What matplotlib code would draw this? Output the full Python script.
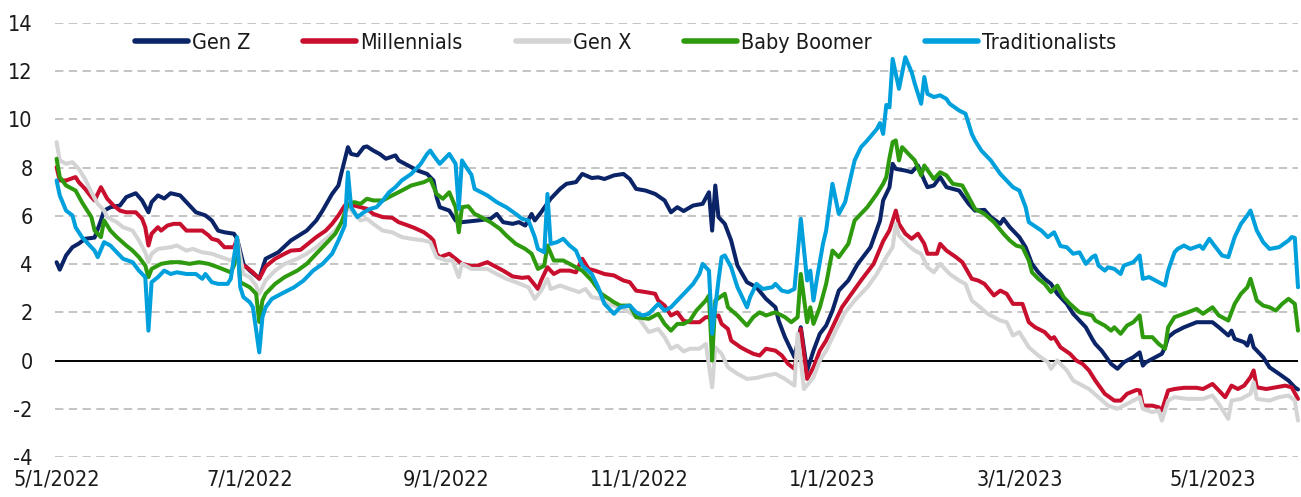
import matplotlib
matplotlib.use("Agg")
import matplotlib.pyplot as plt
from matplotlib import font_manager
from matplotlib.font_manager import FontProperties
import pandas as pd

# ---------------- data (days since 2022-05-01, values) ----------------
start_date = "2022-05-01"

genz_days = [0,1,3,5,7,9,12,14,15,17,20,22,25,27,29,30,32,34,36,39,42,44,47,49,51,53,56,57,59,61,64,66,70,74,79,82,84,87,89,90,92,93,95,97,98,100,102,104,107,108,110,112,114,117,119,120,121,124,126,128,131,133,137,139,141,144,146,148,150,151,153,156,159,161,164,166,169,171,173,176,179,181,183,186,189,192,194,196,198,201,204,206,207,208,209,211,213,215,218,221,224,227,228,230,233,235,237,239,241,243,245,247,250,253,257,260,261,263,264,265,268,270,272,274,275,277,279,281,283,285,288,290,293,295,298,299,301,304,306,308,310,312,314,316,319,321,323,325,327,328,330,333,335,337,340,342,343,344,347,349,350,351,353,356,360,363,365,367,370,371,372,375,376,377,378,381,383,386,389,391,392]
genz_vals = [4.08,3.77,4.36,4.70,4.85,5.05,5.10,5.81,6.22,6.36,6.43,6.78,6.94,6.64,6.15,6.57,6.85,6.72,6.94,6.85,6.43,6.15,6.02,5.81,5.39,5.32,5.26,5.05,4.00,3.73,3.40,4.22,4.49,4.98,5.39,5.81,6.22,6.91,7.26,7.81,8.85,8.57,8.51,8.85,8.88,8.71,8.57,8.37,8.51,8.30,8.16,8.02,7.88,7.74,7.47,6.78,6.36,6.22,5.81,5.74,5.78,5.81,5.88,6.08,5.74,5.67,5.74,5.60,6.08,5.81,6.15,6.71,7.12,7.33,7.40,7.74,7.57,7.60,7.53,7.68,7.74,7.53,7.12,7.05,6.91,6.64,6.15,6.36,6.20,6.43,6.50,6.98,5.39,7.26,5.95,5.67,4.98,3.94,3.25,3.04,2.56,2.21,1.66,0.97,0.14,1.38,-0.41,0.41,1.11,1.45,2.07,2.90,3.32,4.01,4.70,5.80,6.64,7.19,8.16,7.95,7.88,7.81,8.09,7.47,7.19,7.26,7.61,7.19,7.12,7.05,6.50,6.22,6.25,5.95,5.67,5.88,5.53,5.12,4.70,4.01,3.66,3.39,3.18,2.77,2.35,1.94,1.66,1.38,0.90,0.69,0.41,-0.14,-0.34,-0.07,0.14,0.34,-0.21,-0.07,0.14,0.28,0.55,0.97,1.18,1.38,1.59,1.59,1.59,1.38,1.04,1.24,0.90,0.76,0.62,1.04,0.55,0.14,-0.28,-0.55,-0.83,-1.11,-1.20]

mill_days = [0,1,3,6,7,9,11,12,14,16,18,20,22,25,27,28,29,30,32,33,35,37,39,41,43,46,48,49,51,53,56,57,58,60,62,64,66,69,72,74,77,80,82,85,87,89,91,92,94,98,100,103,106,108,111,113,116,118,119,120,121,124,126,128,131,133,136,138,141,144,147,149,152,153,155,157,159,162,164,166,168,170,173,176,179,181,183,186,189,190,192,194,196,198,200,203,205,207,209,210,212,213,216,218,220,222,224,227,229,231,233,235,237,239,241,243,245,248,251,254,258,261,263,264,265,266,268,270,272,274,275,278,279,281,284,286,289,291,293,296,298,300,302,305,307,309,312,314,315,317,320,322,324,326,328,331,334,336,338,341,342,343,346,348,349,351,353,356,360,362,365,367,369,371,373,375,377,378,379,382,385,388,390,392]
mill_vals = [8.02,7.47,7.47,7.61,7.40,7.12,6.78,6.64,7.19,6.71,6.43,6.22,6.15,6.15,5.88,5.53,4.77,5.26,5.53,5.39,5.60,5.67,5.67,5.39,5.39,5.39,5.19,5.05,4.98,4.70,4.70,5.05,4.01,3.87,3.66,3.39,3.90,4.22,4.43,4.56,4.59,4.91,5.12,5.39,5.67,6.02,6.43,6.36,6.43,6.29,6.08,5.95,5.92,5.74,5.60,5.50,5.32,5.12,4.98,4.43,4.29,4.43,4.22,4.01,3.92,3.94,4.08,3.94,3.73,3.49,3.43,3.46,2.97,3.32,3.87,3.59,3.73,3.73,3.66,4.22,3.80,3.73,3.59,3.53,3.32,3.25,2.90,2.84,2.77,2.49,2.28,1.87,2.00,1.65,1.59,1.59,1.80,1.80,1.87,1.52,1.31,0.83,0.55,0.41,0.28,0.21,0.49,0.41,0.21,-0.14,-0.34,1.31,-0.76,-0.28,0.41,0.83,1.38,2.21,2.77,3.32,4.01,4.95,5.40,5.80,6.22,5.67,5.26,5.05,5.26,4.84,4.43,4.43,4.84,4.56,4.29,4.08,3.39,3.32,3.18,2.70,2.90,2.77,2.35,2.35,1.59,1.38,1.18,0.90,0.97,0.55,0.28,0.00,-0.14,-0.41,-0.83,-1.38,-1.66,-1.66,-1.38,-1.22,-1.24,-1.87,-1.87,-1.94,-2.07,-1.24,-1.18,-1.13,-1.13,-1.18,-0.97,-1.24,-1.52,-1.04,-1.18,-1.04,-0.69,-0.41,-1.11,-1.18,-1.11,-1.04,-1.11,-1.59]

genx_days = [0,1,3,5,7,9,11,13,15,16,19,21,24,26,28,29,30,32,36,38,41,43,46,49,52,55,56,57,59,61,63,64,66,69,72,76,79,82,85,88,90,92,94,96,98,100,103,106,109,112,116,118,120,123,125,127,128,131,133,136,139,142,145,149,151,153,155,156,159,162,165,167,169,172,174,178,181,184,187,190,192,194,196,198,200,203,205,207,208,210,212,215,218,221,224,227,230,233,234,236,239,241,243,246,249,252,256,259,262,264,265,266,269,271,273,275,277,279,282,285,287,289,291,294,298,300,302,304,307,310,313,314,316,319,321,324,326,329,332,335,339,342,343,346,348,349,351,353,357,362,365,367,370,371,374,377,378,379,383,386,389,391,392]
genx_vals = [9.06,8.30,8.16,8.23,7.95,7.53,6.98,6.50,6.22,5.95,5.74,5.53,5.39,4.98,4.49,4.08,4.43,4.63,4.70,4.77,4.56,4.63,4.49,4.43,4.29,4.15,4.29,5.05,3.59,3.46,3.11,2.77,3.32,3.73,4.01,4.22,4.43,4.70,5.05,5.39,5.74,6.36,6.08,5.81,5.88,5.67,5.39,5.32,5.12,5.05,4.98,4.91,4.29,4.15,4.15,3.46,4.01,3.80,3.80,3.80,3.59,3.39,3.25,3.04,2.56,2.90,3.39,2.97,3.11,2.97,2.84,2.97,2.63,2.56,2.35,2.21,2.00,1.73,1.18,1.31,0.97,0.49,0.62,0.38,0.49,0.49,0.69,-1.11,0.55,0.28,-0.28,-0.55,-0.76,-0.72,-0.62,-0.55,-0.76,-1.04,1.11,-1.18,-0.69,0.00,0.41,1.24,2.00,2.49,3.04,3.59,4.29,4.70,5.67,5.19,4.77,4.56,4.43,3.87,3.66,4.01,3.59,3.32,3.18,2.49,2.28,1.94,1.66,1.59,1.04,1.18,0.55,0.21,-0.07,-0.34,0.00,-0.41,-0.83,-1.04,-1.18,-1.52,-1.87,-2.00,-1.73,-1.52,-2.00,-2.14,-2.07,-2.49,-1.66,-1.52,-1.59,-1.59,-1.45,-1.80,-2.42,-1.66,-1.59,-1.38,-0.90,-1.59,-1.66,-1.52,-1.45,-1.66,-2.49]

boom_days = [0,1,3,6,8,9,11,12,14,15,17,19,22,24,26,28,29,30,33,36,39,42,45,48,51,55,56,57,58,61,63,64,65,66,69,72,76,79,82,85,88,90,92,94,96,98,100,103,106,109,112,116,118,120,122,124,126,127,128,130,132,133,137,140,142,145,148,150,152,154,155,157,160,163,166,169,172,176,178,181,183,187,190,192,194,196,198,200,202,205,206,207,208,211,212,215,218,220,222,224,227,230,232,234,235,237,238,239,241,243,245,247,250,252,256,259,261,262,263,264,265,266,267,269,271,273,274,277,279,281,283,286,288,290,293,296,299,301,303,305,307,308,310,312,314,316,318,320,323,325,327,328,331,333,334,336,338,340,342,343,346,348,350,351,353,356,360,362,365,367,370,372,374,376,377,379,381,383,385,387,389,391,392]
boom_vals = [8.37,7.61,7.26,7.05,6.57,6.36,5.95,5.39,5.12,5.81,5.39,5.12,4.77,4.56,4.29,3.94,3.46,3.80,4.01,4.08,4.08,4.01,4.08,4.01,3.87,3.66,3.94,4.91,3.25,3.04,2.77,1.60,2.49,2.77,3.18,3.46,3.73,4.01,4.43,4.84,5.26,5.74,6.50,6.57,6.50,6.71,6.64,6.64,6.85,7.05,7.26,7.40,7.53,6.91,6.71,6.98,6.36,5.32,6.36,6.40,6.08,6.02,5.74,5.46,5.19,4.84,4.63,4.43,3.80,3.94,4.77,4.15,4.15,3.94,3.73,3.32,2.77,2.42,2.28,2.28,1.80,1.73,1.94,1.52,1.24,1.52,1.52,1.66,2.07,2.49,2.70,0.00,2.49,2.77,2.21,1.87,1.45,1.80,2.00,1.87,2.00,1.80,1.59,1.80,3.59,1.59,2.21,1.52,2.21,3.18,4.56,4.29,4.84,5.81,6.36,6.91,7.33,7.61,8.40,9.06,9.13,8.30,8.85,8.57,8.30,7.68,8.09,7.53,7.81,7.68,7.33,7.26,6.78,6.29,6.08,5.74,5.26,4.98,4.77,4.70,4.15,3.66,3.39,3.18,2.84,3.11,2.63,2.35,2.00,1.94,1.87,1.66,1.45,1.24,1.38,1.11,1.45,1.59,1.87,0.97,0.97,0.69,0.49,1.38,1.80,1.94,2.14,1.94,2.21,1.87,1.66,2.35,2.77,3.04,3.39,2.49,2.28,2.21,2.07,2.35,2.56,2.35,1.24]

trad_days = [0,1,3,5,6,8,10,12,13,15,17,19,21,24,26,28,29,30,32,34,36,38,41,44,46,47,49,51,54,55,57,58,59,61,62,64,65,66,68,71,75,78,81,84,87,89,91,92,93,95,97,99,101,103,105,107,109,112,115,117,118,119,121,124,126,127,128,129,131,132,136,139,142,145,147,149,151,152,154,155,156,158,160,162,164,166,169,171,173,176,178,181,183,185,187,190,192,194,196,199,201,203,204,206,207,209,210,211,213,215,216,218,219,221,223,226,227,229,231,233,235,237,238,239,240,242,243,245,247,249,251,252,254,256,259,260,261,262,263,264,266,268,270,271,273,274,275,277,279,281,282,285,287,289,290,292,295,298,302,304,306,307,311,313,315,317,319,321,323,325,327,328,329,331,332,334,336,337,340,342,343,345,347,350,351,353,354,356,358,361,362,364,366,368,370,372,374,376,377,379,381,383,386,389,390,391,392]
trad_vals = [7.47,6.85,6.22,6.02,5.53,5.12,4.84,4.56,4.29,4.91,4.77,4.49,4.22,4.08,3.73,3.46,1.24,3.25,3.46,3.73,3.59,3.66,3.59,3.59,3.39,3.59,3.25,3.18,3.18,3.39,5.12,3.04,2.63,2.42,2.21,0.34,1.80,2.21,2.56,2.77,3.04,3.32,3.73,4.01,4.43,4.98,5.60,7.81,6.36,5.95,6.15,6.29,6.36,6.64,6.98,7.19,7.47,7.74,8.16,8.57,8.71,8.51,8.16,8.57,8.16,6.29,8.30,8.09,7.70,7.12,6.85,6.57,6.36,6.08,5.88,5.81,5.12,4.63,4.49,6.91,4.84,4.91,5.05,4.77,4.56,3.94,3.59,3.04,2.35,1.94,2.21,2.28,2.00,1.87,1.94,2.35,2.07,2.21,2.49,2.90,3.18,3.59,4.01,3.73,1.11,3.32,4.29,4.36,3.87,3.04,2.77,2.21,2.63,3.18,2.97,3.04,3.18,2.90,2.84,2.97,5.88,3.32,3.73,2.49,3.32,4.84,5.39,7.33,6.08,6.57,7.74,8.30,8.85,9.13,9.60,9.85,9.40,10.60,10.50,12.51,11.27,12.58,11.96,11.48,10.65,11.76,11.06,10.93,11.00,10.85,10.65,10.37,10.24,9.40,9.13,8.71,8.30,7.74,7.19,7.05,6.36,5.74,5.39,5.12,5.32,4.75,4.70,4.43,4.49,4.01,4.29,4.36,3.94,3.73,3.87,3.80,3.59,3.94,4.08,4.36,3.39,3.46,3.32,3.11,3.73,4.49,4.63,4.77,4.63,4.77,4.63,5.05,4.70,4.36,4.29,5.12,5.67,6.02,6.22,5.39,4.91,4.63,4.70,4.98,5.12,5.09,3.04]

series_names = ["Gen Z", "Millennials", "Gen X", "Baby Boomer", "Traditionalists"]
series_days = [genz_days, mill_days, genx_days, boom_days, trad_days]
series_vals = [genz_vals, mill_vals, genx_vals, boom_vals, trad_vals]
series_colors = ["#0a2467", "#c8102e", "#d4d4d4", "#2e9a0e", "#00a0dd"]

tick_dates = ["2022-05-01", "2022-07-01", "2022-09-01", "2022-11-01",
              "2023-01-01", "2023-03-01", "2023-05-01"]
y_ticks = [-4, -2, 0, 2, 4, 6, 8, 10, 12, 14]

# ---------------- fonts ----------------
fp = None
for f in font_manager.fontManager.ttflist:
    if f.name in ("DejaVu Sans", "Liberation Sans Narrow") and str(f.stretch) in ("condensed", "semi-condensed", "600", "500") \
            and f.style == "normal" and f.weight in (400, "normal", "regular"):
        fp = f.fname
        break
if fp is None:
    for f in font_manager.fontManager.ttflist:
        if f.name == "Liberation Sans Narrow" and f.style == "normal" and f.weight in (400, "normal", "regular"):
            fp = f.fname
            break
if fp is not None:
    FS = 15.5
    font = FontProperties(fname=fp, size=FS)
else:
    FS = 14
    font = FontProperties(family="DejaVu Sans", size=FS)

# ---------------- figure ----------------
W, H = 1301, 497
fig = plt.figure(figsize=(W / 100, H / 100), dpi=100)
ax = fig.add_axes([55 / W, 1 - 457 / H, (1298 - 55) / W, (457 - 23) / H])

base = pd.Timestamp(start_date)
for name, d, v, c in zip(series_names, series_days, series_vals, series_colors):
    x = base + pd.to_timedelta(d, unit="D")
    ax.plot(x, v, color=c, lw=2.9, label=name, solid_joinstyle="round",
            solid_capstyle="round", zorder=3, clip_on=False)

ax.set_ylim(-4, 14)
ax.set_xlim(base - pd.Timedelta(days=0.5), base + pd.Timedelta(days=392))
ax.set_yticks(y_ticks)
ax.set_yticklabels([str(t) for t in y_ticks], fontproperties=font)
tds = [pd.Timestamp(t) for t in tick_dates]
ax.set_xticks(tds)
ax.set_xticklabels([f"{t.month}/{t.day}/{t.year}" for t in tds], fontproperties=font)

for t in y_ticks:
    if t == 0:
        ax.axhline(0, color="black", lw=1.4, zorder=2)
    else:
        ax.axhline(t, color="#b4b4b4", lw=1.1, ls=(0, (5.5, 3.5)), zorder=1)

for s in ax.spines.values():
    s.set_visible(False)
ax.tick_params(axis="both", length=0, colors="#1a1a1a")
ax.tick_params(axis="y", pad=16)
ax.tick_params(axis="x", pad=9)

em = FS * 100 / 72.0
leg = ax.legend(loc="center left", bbox_to_anchor=((135 - 55) / (1298 - 55), (457 - 43) / 434),
                ncol=5, frameon=False, prop=font, handlelength=53 / em,
                handletextpad=4 / em, columnspacing=53 / em, borderpad=0, borderaxespad=0)
for line in leg.get_lines():
    line.set_linewidth(4.0)
    line.set_solid_capstyle("round")
for txt in leg.get_texts():
    txt.set_color("#1a1a1a")

fig.savefig("out.png", dpi=100)
